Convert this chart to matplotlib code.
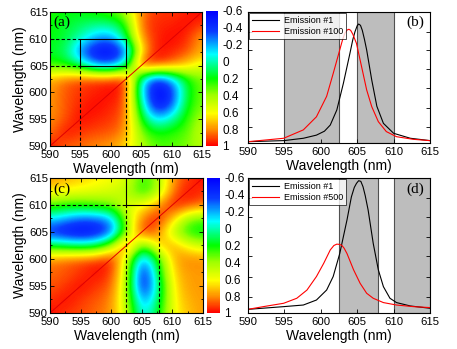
import matplotlib
matplotlib.use("Agg")
import matplotlib.pyplot as plt
import numpy as np
from matplotlib.colors import LinearSegmentedColormap

plt.rcParams['font.family'] = ['Liberation Sans', 'DejaVu Sans']

# wavelength grid of the correlation maps (nm)
wl = [590, 592.5, 595, 597.5, 600, 602.5, 605, 607.5, 610, 612.5, 615]

# map (a): rows from 590 nm (bottom) up to 615 nm (top)
map_a = [
    [1.00, 0.85, 0.85, 0.80, 0.78, 0.68, 0.45, 0.30, 0.30, 0.35, 0.45],
    [0.82, 1.00, 0.92, 0.90, 0.88, 0.80, 0.35, 0.20, 0.25, 0.30, 0.50],
    [0.80, 0.88, 1.00, 0.95, 0.93, 0.85, 0.20, -0.15, 0.00, 0.25, 0.45],
    [0.78, 0.88, 0.95, 1.00, 0.95, 0.90, 0.05, -0.55, -0.35, 0.20, 0.35],
    [0.78, 0.88, 0.93, 0.95, 1.00, 0.93, -0.10, -0.60, -0.45, 0.15, 0.35],
    [0.75, 0.85, 0.90, 0.93, 0.93, 1.00, -0.05, -0.45, -0.20, 0.20, 0.35],
    [0.25, 0.20, 0.05, -0.25, -0.30, 0.00, 1.00, 0.95, 0.85, 0.70, 0.55],
    [0.15, 0.10, -0.30, -0.55, -0.60, -0.35, 0.65, 1.00, 0.95, 0.90, 0.75],
    [0.20, 0.15, 0.00, -0.20, -0.25, 0.10, 0.80, 0.95, 1.00, 0.95, 0.75],
    [0.20, 0.15, 0.10, 0.05, 0.05, 0.20, 0.88, 0.95, 0.95, 1.00, 0.92],
    [0.25, 0.20, 0.20, 0.25, 0.30, 0.45, 0.82, 0.93, 0.92, 0.95, 1.00],
]

# map (c)
map_c = [
    [1.00, 0.92, 0.90, 0.85, 0.80, 0.50, -0.15, 0.15, 0.60, 0.72, 0.78],
    [0.92, 1.00, 0.92, 0.88, 0.82, 0.45, -0.30, 0.05, 0.62, 0.75, 0.78],
    [0.88, 0.92, 1.00, 0.92, 0.88, 0.45, -0.55, 0.00, 0.65, 0.78, 0.78],
    [0.85, 0.88, 0.92, 1.00, 0.92, 0.50, -0.55, 0.10, 0.70, 0.78, 0.78],
    [0.82, 0.86, 0.90, 0.92, 1.00, 0.50, -0.30, 0.20, 0.75, 0.82, 0.80],
    [0.15, 0.10, 0.05, 0.10, 0.40, 1.00, 0.20, 0.70, 0.78, 0.58, 0.50],
    [-0.45, -0.55, -0.60, -0.55, -0.35, 0.35, 1.00, 0.82, 0.45, 0.20, 0.15],
    [-0.10, -0.20, -0.30, -0.30, -0.20, 0.45, 0.82, 1.00, 0.70, 0.35, 0.30],
    [0.30, 0.25, 0.25, 0.30, 0.35, 0.55, 0.60, 0.78, 1.00, 0.92, 0.85],
    [0.65, 0.60, 0.58, 0.55, 0.52, 0.45, 0.20, 0.40, 0.85, 1.00, 0.92],
    [0.80, 0.75, 0.70, 0.65, 0.60, 0.55, 0.25, 0.40, 0.80, 0.92, 1.00],
]

# emission spectra (normalised, arbitrary units)
b1_x = [590, 594.9, 597.6, 599.4, 600.5, 601.3, 602.2, 603.1, 604.0, 604.4, 604.7, 605.0,
        605.2, 605.45, 605.7, 606.0, 606.3, 607.0, 607.7, 608.6, 610.0, 612.3, 615]
b1_y = [0.010, 0.018, 0.036, 0.060, 0.090, 0.137, 0.252, 0.455, 0.684, 0.790, 0.850, 0.895,
        0.908, 0.898, 0.860, 0.790, 0.710, 0.480, 0.280, 0.150, 0.074, 0.036, 0.018]
b100_x = [590, 594.9, 597.6, 599.4, 600.8, 601.7, 602.6, 603.0, 603.3, 603.6, 603.85, 604.1,
          604.4, 604.9, 605.6, 606.3, 607.0, 607.9, 609.0, 610.4, 612.7, 615]
b100_y = [0.010, 0.036, 0.100, 0.200, 0.356, 0.530, 0.710, 0.790, 0.837, 0.862, 0.868, 0.860,
          0.830, 0.760, 0.583, 0.405, 0.277, 0.163, 0.087, 0.048, 0.028, 0.018]

d1_x = [590, 594.9, 597.6, 599.4, 600.8, 601.7, 602.6, 603.6, 604.2, 604.6, 604.9, 605.2,
        605.5, 605.8, 606.1, 606.5, 607.2, 607.9, 608.6, 609.5, 610.4, 612.3, 615]
d1_y = [0.027, 0.047, 0.059, 0.096, 0.170, 0.270, 0.440, 0.690, 0.860, 0.930, 0.960, 0.980,
        0.975, 0.935, 0.870, 0.763, 0.516, 0.320, 0.195, 0.109, 0.077, 0.052, 0.035]
d500_x = [590, 592.1, 594.9, 596.7, 598.1, 599.4, 600.4, 601.3, 601.8, 602.2, 602.6, 602.9,
          603.2, 603.6, 604.5, 605.4, 606.3, 607.2, 608.6, 610.4, 612.7, 615]
d500_y = [0.027, 0.047, 0.072, 0.109, 0.170, 0.270, 0.368, 0.467, 0.500, 0.510, 0.508, 0.500,
          0.480, 0.440, 0.320, 0.220, 0.146, 0.109, 0.077, 0.059, 0.047, 0.040]

# selected spectral windows
bands_top = [(595, 602.5), (605, 610)]
bands_bot = [(602.5, 607.8), (610, 615)]

cbar_ticks = [-0.6, -0.4, -0.2, 0, 0.2, 0.4, 0.6, 0.8, 1]
cbar_labels = ['-0.6', '-0.4', '-0.2', '0', '0.2', '0.4', '0.6', '0.8', '1']
xticks = [590, 595, 600, 605, 610, 615]

cmap = LinearSegmentedColormap.from_list('origin', [
    (0.0, '#0000ff'), (0.15, '#0a3cff'), (0.32, '#00ffff'), (0.5, '#00ff00'),
    (0.62, '#9cff00'), (0.76, '#ffff00'), (0.88, '#ff8c00'), (1.0, '#ff0000')])

fig = plt.figure(figsize=(4.57, 3.49), dpi=100)


def heat(rect, crect, data, label):
    ax = fig.add_axes(rect)
    im = ax.imshow(np.array(data), origin='lower', cmap=cmap, vmin=-0.6, vmax=1,
                   extent=[588.75, 616.25, 588.75, 616.25], interpolation='bicubic',
                   aspect='auto')
    ax.plot(wl, wl, color='#e00000', lw=0.7)
    ax.set_xlim(590, 615)
    ax.set_ylim(590, 615)
    ax.set_xticks(xticks)
    ax.set_yticks(xticks)
    ax.set_xticks(np.arange(590, 616, 2.5), minor=True)
    ax.set_yticks(np.arange(590, 616, 2.5), minor=True)
    ax.tick_params(direction='in', labelsize=8.2, length=3, width=0.6, pad=1.5,
                   top=True, right=True, which='both')
    ax.tick_params(which='minor', length=1.5)
    ax.tick_params(axis='x', pad=3.2)
    for t in ax.get_yticklabels():
        t.set_verticalalignment('center_baseline')
    ax.set_xlabel('Wavelength (nm)', fontsize=10, labelpad=1)
    ax.set_ylabel('Wavelength (nm)', fontsize=10, labelpad=1)
    ax.text(0.02, 0.97, label, transform=ax.transAxes, ha='left', va='top',
            fontsize=11, family='Liberation Serif')
    cax = fig.add_axes(crect)
    cb = fig.colorbar(im, cax=cax, ticks=cbar_ticks)
    cb.ax.set_yticklabels(cbar_labels)
    cb.ax.invert_yaxis()
    cb.outline.set_visible(False)
    cb.ax.tick_params(length=0, labelsize=8.5, pad=3)
    return ax


def spectra(rect, bands, xs, ys, names, label):
    ax = fig.add_axes(rect)
    for lo, hi in bands:
        ax.axvspan(lo, hi, facecolor='#bdbdbd', edgecolor='#505050', lw=0.8)
    ax.plot(xs[0], ys[0], color='black', lw=0.8, label=names[0])
    ax.plot(xs[1], ys[1], color='red', lw=0.8, label=names[1])
    ax.set_xlim(590, 615)
    ax.set_ylim(0, 1)
    ax.set_xticks(xticks)
    ax.set_yticks([0.12, 0.27, 0.42, 0.565, 0.71, 0.85])
    ax.set_yticklabels([])
    ax.tick_params(direction='in', labelsize=8.2, length=3, width=0.6, pad=3.2,
                   right=True)
    ax.set_xlabel('Wavelength (nm)', fontsize=10, labelpad=1)
    leg = ax.legend(loc='upper left', fontsize=6.5, frameon=True, fancybox=False,
                    borderaxespad=0.15, handlelength=3, borderpad=0.3, labelspacing=0.2,
                    handletextpad=0.5)
    leg.get_frame().set_edgecolor('black')
    leg.get_frame().set_linewidth(0.6)
    ax.text(0.97, 0.97, label, transform=ax.transAxes, ha='right', va='top',
            fontsize=11, family='Liberation Serif')
    return ax


ax_a = heat([0.1094, 0.5817, 0.3326, 0.384], [0.4508, 0.5817, 0.0263, 0.3868], map_a, '(a)')
ax_c = heat([0.1094, 0.1032, 0.3348, 0.3868], [0.453, 0.1032, 0.0284, 0.3868], map_c, '(c)')

dash = dict(color='black', lw=0.8, ls=(0, (3, 2)))
solid = dict(color='black', lw=0.8)

# (a) window box and guides
(x0, x1), (y0, y1) = bands_top
ax_a.plot([x0, x1, x1, x0, x0], [y0, y0, y1, y1, y0], **solid)
ax_a.plot([590, x0], [y0, y0], **dash)
ax_a.plot([590, x0], [y1, y1], **dash)
ax_a.plot([x0, x0], [590, y0], **dash)
ax_a.plot([x1, x1], [590, y0], **dash)

# (c) window box and guides
(x0, x1), (y0, y1) = bands_bot
ax_c.plot([x0, x0, x1, x1], [615, y0, y0, 615], **solid)
ax_c.plot([590, x0], [y0, y0], **dash)
ax_c.plot([x0, x0], [590, y0], **dash)
ax_c.plot([x1, x1], [590, y0], **dash)

spectra([0.5427, 0.5903, 0.3982, 0.3754], bands_top, [b1_x, b100_x], [b1_y, b100_y],
        ['Emission #1', 'Emission #100'], '(b)')
spectra([0.5427, 0.1032, 0.3982, 0.3868], bands_bot, [d1_x, d500_x], [d1_y, d500_y],
        ['Emission #1', 'Emission #500'], '(d)')

fig.savefig('out.png', dpi=100)
